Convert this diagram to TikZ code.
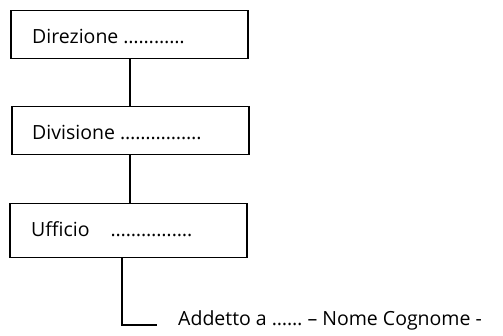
\documentclass[tikz,border=0pt]{standalone}
\usepackage{fontspec}
\setmainfont{Open Sans}
\begin{document}
\begin{tikzpicture}[x=1pt,y=-1pt,
  box/.style={draw=black,line width=1.5pt,minimum width=237pt,minimum height=48pt,anchor=north west,inner sep=0pt},
  lbl/.style={anchor=west,inner sep=0pt,font=\fontsize{19.5}{22}\selectfont},
  conn/.style={draw=black,line width=1.3pt}]
\useasboundingbox (0,0) rectangle (503,336);
\node[box] (b1) at (10,10) {};
\node[box] (b2) at (11,106) {};
\node[box,minimum height=54pt] (b3) at (9,203) {};
\node[lbl] (t1) at (32,36) {Direzione …………};
\node[lbl] (t2) at (32,132) {Divisione …………….};
\node[lbl] (t3) at (31,229) {Ufficio \hspace{16pt}…………….};
\node[lbl] (t4) at (178,320) {Addetto a …… – Nome Cognome -};
\coordinate (c1) at (130,58);
\coordinate (c3) at (130,154);
\coordinate (u) at (122,257);
\coordinate (e) at (157,325);
\draw[conn] (b1.south -| c1) -- (b2.north -| c1);
\draw[conn] (b2.south -| c3) -- (b3.north -| c3);
\draw[conn] (b3.south -| u) |- (e);
\end{tikzpicture}
\end{document}
